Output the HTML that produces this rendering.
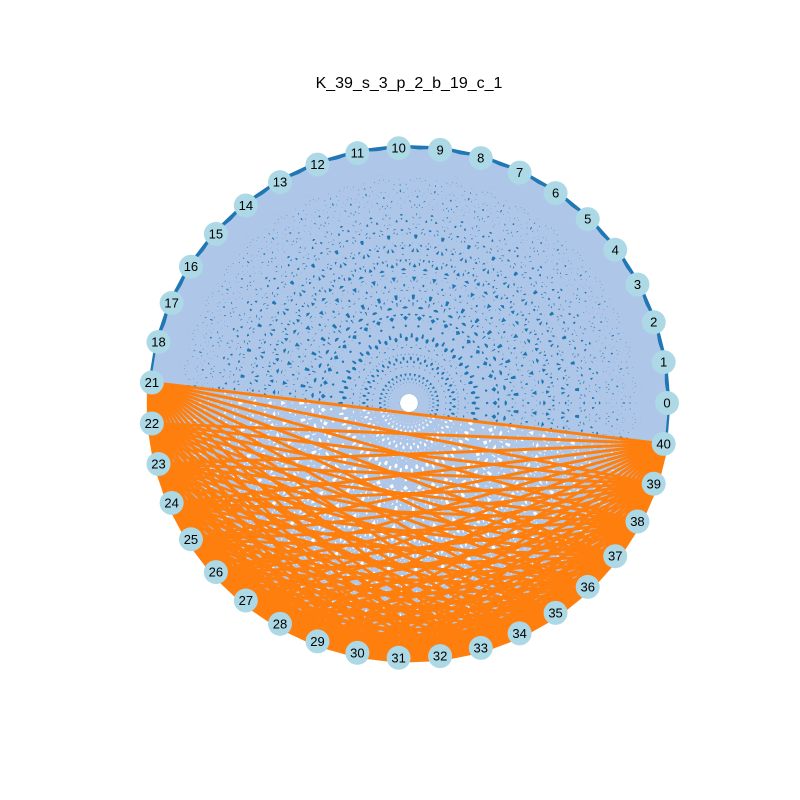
<!DOCTYPE html>
<html><head><meta charset="utf-8"><style>
html,body{margin:0;padding:0;background:#fff;}
svg{display:block;font-family:"Liberation Sans","DejaVu Sans",sans-serif;}
</style></head><body>
<svg id="chart" width="800" height="800" viewBox="0 0 800 800">
<rect width="800" height="800" fill="#fff"/>
<text x="409" y="88" text-anchor="middle" font-size="16" fill="#000">K_39_s_3_p_2_b_19_c_1</text>
<g id="edges"></g>
<g id="nodes"></g>
</svg>
<script>
const topNodes = [0,1,2,3,4,5,6,7,8,9,10,11,12,13,14,15,16,17,18];
const bottomNodes = [21,22,23,24,25,26,27,28,29,30,31,32,33,34,35,36,37,38,39,40];
const slotCount = 39;
const cx = 409, cy = 403, RX = 258, RY = 255;
const NS = "http://www.w3.org/2000/svg";
function slotOf(n){ return n <= 18 ? n : n - 2; }
function pos(n){
  const a = slotOf(n) * 2 * Math.PI / slotCount;
  return [cx + RX * Math.cos(a), cy - RY * Math.sin(a)];
}
const eg = document.getElementById('edges');
function edge(a, b, color, w){
  const p = pos(a), q = pos(b);
  const l = document.createElementNS(NS, 'line');
  l.setAttribute('x1', p[0]); l.setAttribute('y1', p[1]);
  l.setAttribute('x2', q[0]); l.setAttribute('y2', q[1]);
  l.setAttribute('stroke', color); l.setAttribute('stroke-width', w);
  
  
  eg.appendChild(l);
}
function poly(list, color, name){
  const pg = document.createElementNS(NS, 'polygon');
  pg.setAttribute('points', list.map(n => pos(n).join(',')).join(' '));
  pg.setAttribute('fill', color);
  
  
  eg.appendChild(pg);
}
const upperRing = [40].concat(topNodes, [21]);
poly(upperRing, '#1f77b4', 'upper-dark-region');
for (let i = 0; i + 1 < upperRing.length; i++) edge(upperRing[i], upperRing[i+1], '#1f77b4', 7);
for (const a of topNodes) for (const b of bottomNodes) edge(a, b, '#aec7e8', 2.3);
for (let i = 0; i < topNodes.length; i++) for (let j = i + 2; j < topNodes.length; j++) edge(topNodes[i], topNodes[j], '#aec7e8', 2.3);
for (let i = 0; i + 1 < bottomNodes.length; i++) edge(bottomNodes[i], bottomNodes[i+1], '#ff7f0e', 10);
for (let i = 0; i < bottomNodes.length; i++) for (let j = i + 1; j < bottomNodes.length; j++) edge(bottomNodes[i], bottomNodes[j], '#ff7f0e', 3);

const ng = document.getElementById('nodes');
const c0 = document.createElementNS(NS, 'circle');
c0.setAttribute('cx', cx); c0.setAttribute('cy', cy); c0.setAttribute('r', 9);
c0.setAttribute('fill', '#fff');


ng.appendChild(c0);
for (const n of topNodes.concat(bottomNodes)) {
  const p = pos(n);
  const c = document.createElementNS(NS, 'circle');
  c.setAttribute('cx', p[0]); c.setAttribute('cy', p[1]); c.setAttribute('r', 12);
  c.setAttribute('fill', '#add8e6');
  
  
  ng.appendChild(c);
  const t = document.createElementNS(NS, 'text');
  t.setAttribute('x', p[0]); t.setAttribute('y', p[1] + 4.5);
  t.setAttribute('text-anchor', 'middle'); t.setAttribute('font-size', '13');
  t.textContent = n;
  
  
  ng.appendChild(t);
}
</script>
</body></html>
